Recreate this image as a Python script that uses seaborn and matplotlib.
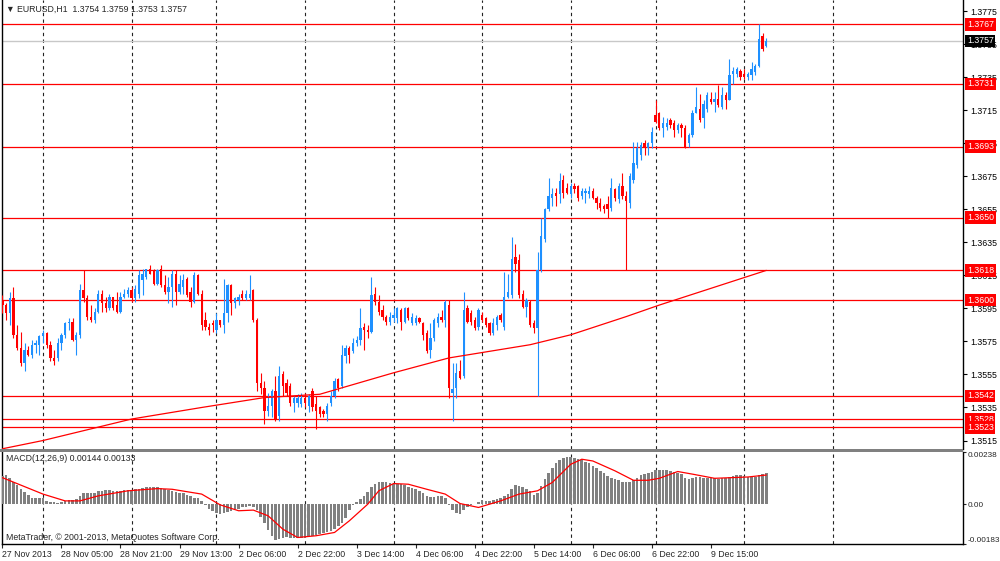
import numpy as np
import pandas as pd
import matplotlib
matplotlib.use("Agg")
import matplotlib.pyplot as plt
import matplotlib.transforms as mtransforms
from matplotlib.patches import Rectangle
import seaborn as sns

# EURUSD H1, 27 Nov 2013 13:00 .. 10 Dec 2013 05:00
# prices are stored as pips above 1.3500
open_pips = [100, 97, 92, 101, 79, 71, 62, 70, 67, 73,
             73, 78, 80, 73, 65, 65, 74, 79, 86, 87,
             76, 79, 106, 101, 90, 88, 93, 104, 98, 95,
             102, 97, 93, 102, 104, 106, 101, 104, 112, 114,
             119, 118, 110, 119, 109, 105, 108, 116, 105, 108,
             113, 105, 99, 115, 104, 88, 84, 86, 82, 88,
             85, 92, 109, 98, 100, 104, 101, 101, 106, 88,
             50, 47, 33, 36, 45, 30, 55, 50, 48, 38,
             38, 37, 41, 36, 45, 37, 35, 33, 31, 38,
             42, 52, 48, 66, 71, 69, 74, 76, 84, 82,
             81, 104, 99, 94, 90, 87, 89, 89, 94, 87,
             95, 86, 86, 89, 86, 80, 70, 77, 86, 90,
             88, 97, 44, 47, 57, 54, 95, 92, 88, 84,
             91, 89, 86, 80, 85, 91, 84, 102, 103, 126,
             124, 104, 96, 99, 86, 83, 118, 137, 155, 162,
             165, 164, 173, 168, 164, 169, 169, 163, 165, 164,
             166, 162, 159, 157, 158, 156, 167, 161, 169, 163,
             159, 173, 182, 188, 195, 192, 195, 212, 213, 204,
             205, 209, 207, 203, 206, 204, 195, 200, 213, 216,
             210, 216, 222, 220, 222, 217, 224, 221, 237, 237,
             239, 237, 235, 236, 238, 242, 260, 254]
high_pips = [103, 98, 105, 108, 85, 81, 74, 72, 76, 76,
             79, 82, 81, 75, 70, 77, 80, 87, 89, 89,
             81, 110, 118, 103, 97, 95, 106, 106, 102, 104,
             102, 105, 105, 107, 108, 108, 109, 118, 119, 119,
             121, 119, 119, 121, 115, 114, 118, 118, 115, 116,
             114, 108, 117, 116, 106, 93, 86, 88, 92, 88,
             113, 110, 110, 102, 104, 106, 106, 115, 107, 89,
             56, 51, 44, 46, 54, 60, 57, 52, 50, 42,
             43, 44, 44, 43, 47, 42, 36, 34, 38, 45,
             53, 53, 73, 73, 72, 77, 78, 95, 86, 85,
             114, 108, 103, 97, 91, 93, 95, 96, 95, 96,
             96, 92, 91, 90, 87, 82, 86, 89, 92, 94,
             100, 100, 62, 62, 64, 105, 97, 94, 90, 95,
             93, 90, 87, 89, 91, 92, 117, 116, 138, 134,
             128, 106, 101, 100, 88, 129, 150, 156, 174, 168,
             168, 177, 176, 171, 171, 171, 170, 168, 168, 169,
             168, 163, 162, 158, 163, 174, 168, 171, 177, 166,
             177, 196, 196, 196, 197, 196, 205, 221, 214, 211,
             210, 210, 209, 207, 207, 206, 201, 215, 229, 225,
             221, 226, 226, 226, 230, 229, 226, 246, 241, 241,
             240, 240, 238, 244, 243, 267, 262, 259]
low_pips = [92, 88, 85, 77, 70, 60, 57, 66, 65, 68,
            67, 74, 71, 63, 61, 63, 70, 77, 82, 75,
            67, 77, 99, 88, 87, 86, 92, 93, 93, 94,
            94, 92, 92, 101, 102, 99, 99, 101, 103, 113,
            116, 109, 109, 108, 104, 98, 96, 97, 104, 104,
            102, 96, 98, 103, 82, 82, 79, 81, 80, 84,
            80, 87, 91, 95, 97, 100, 100, 100, 87, 45,
            43, 25, 30, 29, 27, 27, 42, 42, 36, 32,
            35, 35, 35, 32, 33, 22, 29, 29, 27, 36,
            41, 45, 47, 62, 62, 68, 72, 73, 70, 77,
            80, 97, 91, 88, 85, 85, 87, 86, 82, 86,
            88, 85, 85, 86, 76, 68, 65, 75, 84, 87,
            84, 41, 27, 41, 52, 53, 86, 85, 82, 82,
            87, 84, 79, 79, 82, 87, 82, 101, 101, 117,
            101, 95, 90, 84, 80, 42, 117, 135, 154, 157,
            157, 159, 162, 164, 162, 165, 160, 161, 159, 162,
            161, 155, 154, 153, 150, 154, 160, 159, 161, 118,
            156, 171, 180, 185, 188, 188, 192, 207, 203, 199,
            203, 204, 199, 201, 199, 192, 193, 199, 213, 208,
            204, 214, 219, 214, 217, 216, 216, 221, 231, 235,
            233, 234, 233, 233, 236, 241, 251, 253]
close_pips = [97, 92, 101, 79, 71, 62, 70, 67, 73, 74,
              78, 80, 73, 65, 63, 74, 79, 86, 87, 76,
              79, 106, 101, 90, 88, 93, 104, 98, 95, 102,
              95, 93, 102, 104, 106, 101, 107, 115, 116, 119,
              116, 110, 118, 109, 105, 108, 116, 105, 110, 112,
              103, 99, 115, 104, 85, 84, 82, 85, 88, 85,
              92, 109, 98, 101, 102, 101, 104, 104, 88, 50,
              47, 33, 36, 45, 28, 54, 48, 44, 38, 41,
              41, 41, 38, 42, 35, 33, 31, 31, 36, 42,
              51, 47, 67, 71, 67, 74, 76, 83, 82, 81,
              103, 99, 93, 90, 87, 90, 91, 95, 87, 95,
              89, 90, 89, 87, 79, 69, 77, 88, 90, 88,
              99, 47, 46, 56, 53, 94, 87, 87, 83, 94,
              88, 85, 80, 86, 90, 88, 102, 105, 125, 122,
              103, 96, 100, 85, 83, 118, 139, 155, 163, 164,
              163, 172, 165, 165, 169, 167, 162, 166, 166, 166,
              162, 159, 156, 155, 155, 168, 162, 169, 163, 160,
              175, 183, 192, 194, 192, 195, 202, 208, 204, 207,
              207, 206, 203, 206, 204, 193, 200, 213, 217, 209,
              219, 224, 220, 222, 218, 224, 221, 236, 239, 240,
              235, 235, 237, 240, 242, 258, 252, 257]

ma_bars = [0, 11, 35, 54, 71, 86, 106, 121, 143, 154, 169, 178, 207]
ma_pips = [10, 15, 28, 35, 41, 43, 56, 65, 73, 79, 90, 97, 118]

# MACD(12,26,9) histogram and signal, in units of 0.00001
macd_main = [129, 132, 118, 99, 86, 71, 56, 41, 30, 27,
             27, 26, 15, 11, 8, 6, 9, 15, 18, 20,
             23, 38, 49, 50, 52, 53, 58, 61, 64, 64,
             61, 61, 61, 64, 65, 65, 67, 70, 73, 80,
             80, 80, 79, 76, 68, 64, 61, 56, 52, 49,
             44, 38, 30, 27, 15, -3, -20, -30, -38, -46,
             -42, -35, -29, -23, -20, -15, -11, -8, -12, -26,
             -58, -88, -118, -147, -164, -161, -152, -149, -152, -155,
             -156, -156, -155, -149, -143, -140, -137, -133, -129, -121,
             -112, -100, -85, -61, -27, -3, 11, 23, 39, 56,
             79, 94, 100, 102, 99, 96, 94, 91, 90, 86,
             80, 74, 67, 61, 53, 38, 33, 33, 38, 39,
             30, -2, -26, -38, -46, -27, -15, -5, 3, 12,
             18, 14, 15, 20, 23, 30, 36, 46, 68, 86,
             83, 79, 71, 61, 41, 53, 83, 114, 144, 167,
             187, 202, 209, 215, 217, 212, 206, 200, 194, 187,
             174, 164, 152, 140, 129, 121, 117, 111, 103, 99,
             103, 111, 121, 132, 137, 141, 146, 155, 156, 156,
             156, 153, 147, 143, 137, 118, 117, 120, 123, 124,
             118, 118, 118, 118, 117, 118, 120, 124, 129, 132,
             132, 127, 124, 124, 123, 132, 137, 144]
signal_bars = [0, 11, 17, 21, 26, 34, 42, 46, 54, 59, 64, 68, 72, 76, 80,
               85, 90, 94, 99, 102, 106, 110, 115, 120, 124, 129, 135, 140,
               145, 149, 154, 157, 160, 166, 171, 175, 178, 183, 187, 193,
               202, 207]
signal_vals = [121, 46, 15, 15, 38, 61, 71, 68, 46, -3, -30, -27, -53, -114, -152,
               -144, -129, -76, 0, 61, 94, 91, 68, 46, 3, -15, 15, 46,
               61, 99, 182, 205, 197, 152, 109, 109, 118, 149, 137, 118,
               124, 133]

levels = [1.3767, 1.3731, 1.3693, 1.3650, 1.3618, 1.3600, 1.3542, 1.3528, 1.3523]
bid_price = 1.3757
price_ticks = [1.3515, 1.3535, 1.3555, 1.3575, 1.3595, 1.3615, 1.3635,
               1.3655, 1.3675, 1.3695, 1.3715, 1.3735, 1.3755, 1.3775]
day_bars = [11, 35, 58, 82, 106, 130, 154, 177, 201, 225]
xtick_bars = [0, 16, 32, 48, 64, 80, 96, 112, 128, 144, 160, 176, 192]
xtick_text = ["27 Nov 2013", "28 Nov 05:00", "28 Nov 21:00", "29 Nov 13:00",
              "2 Dec 06:00", "2 Dec 22:00", "3 Dec 14:00", "4 Dec 06:00",
              "4 Dec 22:00", "5 Dec 14:00", "6 Dec 06:00", "6 Dec 22:00",
              "9 Dec 15:00"]

sns.set_style("white")
plt.rcParams['font.family'] = ['Liberation Sans', 'DejaVu Sans']
FS = 6.3

df = pd.DataFrame({'o': open_pips, 'h': high_pips, 'l': low_pips, 'c': close_pips})
df = 1.35 + df / 10000.0
df['bar'] = np.arange(len(df))
up = df['c'] >= df['o']
cols = np.where(up, '#1e90ff', '#ff0000')

W, H = 1000, 561
fig = plt.figure(figsize=(10, 5.61), dpi=100)
ax = fig.add_axes([2 / W, (H - 449) / H, 961 / W, 449 / H])
ax2 = fig.add_axes([2 / W, (H - 544.3) / H, 961 / W, 92.3 / H])
xlim = (-0.11, 260.3)

# main price panel
for b in day_bars:
    ax.axvline(b, color='#222222', lw=0.8, ls=(0, (3, 3)), zorder=1)
    ax2.axvline(b, color='#222222', lw=0.8, ls=(0, (3, 3)), zorder=1)
for lv in levels:
    ax.axhline(lv, color='#ff0000', lw=0.9, zorder=2)
ax.axhline(bid_price, color='#c8c8c8', lw=1.0, zorder=2)

ax.vlines(df['bar'], df['l'], df['h'], colors=cols, lw=0.8, zorder=3)
ax.bar(df['bar'], df['c'] - df['o'], bottom=df['o'], width=0.62,
       color=cols, lw=0, zorder=4)

ma = pd.DataFrame({'bar': ma_bars, 'price': 1.35 + np.array(ma_pips) / 10000.0})
sns.lineplot(data=ma, x='bar', y='price', ax=ax, color='#ff0000', lw=0.9, zorder=5)

ax.set_xlim(*xlim)
ax.set_ylim(1.350986, 1.378171)
ax.set_xlabel('')
ax.set_ylabel('')
ax.set_xticks([])
ax.yaxis.tick_right()
ax.set_yticks(price_ticks)
ax.set_yticklabels([f'{t:.4f}' for t in price_ticks])
ax.tick_params(axis='y', which='both', right=True, direction='out', length=3,
               width=0.8, pad=2, labelsize=FS, colors='black')
for s in ['top', 'bottom']:
    ax.spines[s].set_visible(False)
for s in ['left', 'right']:
    ax.spines[s].set_color('black')
    ax.spines[s].set_linewidth(1.0)

trans = mtransforms.blended_transform_factory(ax.transAxes, ax.transData)
for lv in levels:
    ax.text(1.004, lv, f'{lv:.4f}', transform=trans, color='white', fontsize=FS,
            ha='left', va='center', clip_on=False, zorder=10,
            bbox=dict(boxstyle='square,pad=0.2', fc='#ff0000', ec='none'))
ax.text(1.004, bid_price, f'{bid_price:.4f}', transform=trans, color='white',
        fontsize=FS, ha='left', va='center', clip_on=False, zorder=11,
        bbox=dict(boxstyle='square,pad=0.2', fc='black', ec='none'))

ax.text(4 / 961, 1 - 9 / 449, '\u25bc EURUSD,H1  1.3754 1.3759 1.3753 1.3757',
        transform=ax.transAxes, fontsize=FS, ha='left', va='center')

# separator between the panels
fig.patches.append(Rectangle((0, (H - 452) / H), 963 / W, 3 / H,
                             transform=fig.transFigure, fc='#808080', ec='none'))

# MACD panel
ax2.bar(np.arange(len(macd_main)), np.array(macd_main) / 1e5, width=0.7,
        color='#808080', lw=0, zorder=3)
sig = pd.DataFrame({'bar': signal_bars, 'val': np.array(signal_vals) / 1e5})
sns.lineplot(data=sig, x='bar', y='val', ax=ax2, color='#ff0000', lw=0.9, zorder=4)

ax2.set_xlim(*xlim)
ax2.set_ylim(-0.00183, 0.00238)
ax2.set_xlabel('')
ax2.set_ylabel('')
ax2.yaxis.tick_right()
ax2.set_yticks([0.00238, 0.0, -0.00183])
ax2.set_yticklabels(['0.00238', '0.00', '-0.00183'])
ax2.tick_params(axis='y', right=True, direction='out', length=2.5, width=0.8,
                pad=1, labelsize=5.9)
ylabs = ax2.get_yticklabels()
ylabs[0].set_va('top')
ylabs[2].set_va('bottom')
ax2.set_xticks(xtick_bars)
ax2.set_xticklabels(xtick_text, ha='left')
ax2.tick_params(axis='x', bottom=True, direction='out', length=3, width=0.8,
                pad=1, labelsize=FS)
ax2.spines['top'].set_visible(False)
for s in ['left', 'right', 'bottom']:
    ax2.spines[s].set_color('black')
    ax2.spines[s].set_linewidth(1.0)

ax2.text(4 / 961, 0.93, 'MACD(12,26,9) 0.00144 0.00133', transform=ax2.transAxes,
         fontsize=FS, ha='left', va='center')
ax2.text(4 / 961, 0.07, 'MetaTrader, \u00a9 2001-2013, MetaQuotes Software Corp.',
         transform=ax2.transAxes, fontsize=FS, ha='left', va='center')

fig.savefig('out.png', dpi=100)
